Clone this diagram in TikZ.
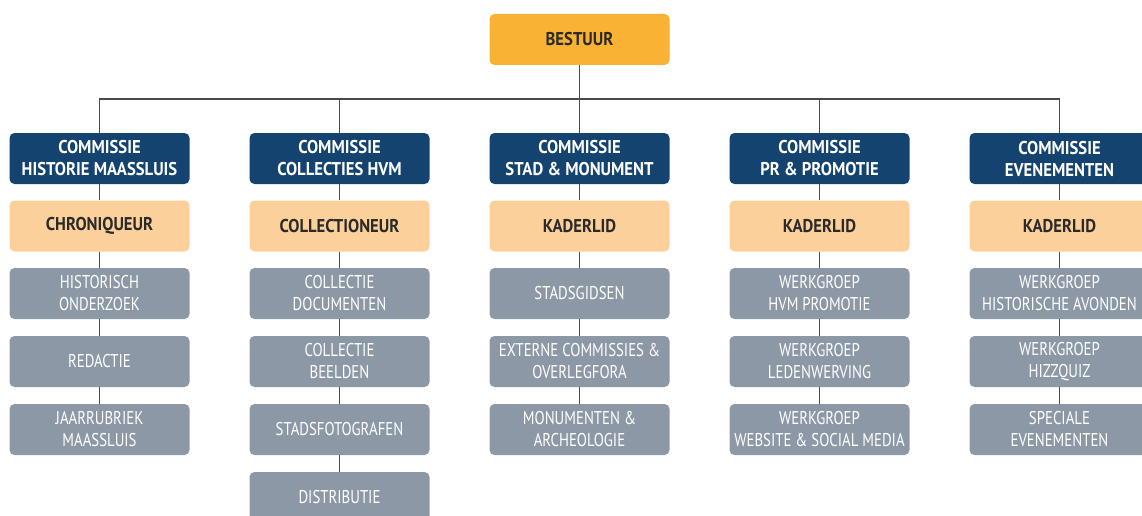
\documentclass[tikz,border=0pt]{standalone}
\usepackage{fontspec}
\setmainfont{PT Sans}[FakeStretch=0.9]
\newfontfamily\groepfont{PT Sans}[FakeStretch=0.8]
\usetikzlibrary{positioning}

\definecolor{bestuurkleur}{HTML}{F9B233}
\definecolor{commissiekleur}{HTML}{13436E}
\definecolor{kaderkleur}{HTML}{FCD09B}
\definecolor{groepkleur}{HTML}{8D98A7}
\definecolor{lijnkleur}{HTML}{4A4A4A}
\definecolor{tekstkleur}{HTML}{2A2A2A}

\tikzset{
  blok/.style={rectangle, rounded corners=5pt, minimum width=180pt, minimum height=51pt,
               align=center, inner sep=0pt},
  bestuur/.style={blok, fill=bestuurkleur, text=tekstkleur, font=\fontsize{18.5}{22}\selectfont\bfseries},
  commissie/.style={blok, fill=commissiekleur, text=white, font=\fontsize{18.5}{22}\selectfont\bfseries},
  kader/.style={blok, fill=kaderkleur, text=tekstkleur, font=\fontsize{18.5}{22}\selectfont\bfseries},
  groep/.style={blok, fill=groepkleur, text=white, font=\groepfont\fontsize{18.5}{22}\selectfont},
  lijn/.style={draw=lijnkleur, line width=1.8pt}
}

\begin{document}
\begin{tikzpicture}[x=1pt,y=-1pt]
\clip (0,0) rectangle (1142,516);

\node[bestuur] (best) at (579.5,39.5) {BESTUUR};
\coordinate (bus) at (579.5,99);

% commissies
\node[commissie] (c1) at (99.5, 158.5) {COMMISSIE\\HISTORIE MAASSLUIS};
\node[commissie] (c2) at (339.5,158.5) {COMMISSIE\\COLLECTIES HVM};
\node[commissie] (c3) at (579.5,158.5) {COMMISSIE\\STAD \& MONUMENT};
\node[commissie] (c4) at (819.5,158.5) {COMMISSIE\\PR \& PROMOTIE};
\node[commissie] (c5) at (1059.5,158.5) {COMMISSIE\\EVENEMENTEN};

% kader
\node[kader] (k1) at (99.5, 226) {CHRONIQUEUR};
\node[kader] (k2) at (339.5,226) {COLLECTIONEUR};
\node[kader] (k3) at (579.5,226) {KADERLID};
\node[kader] (k4) at (819.5,226) {KADERLID};
\node[kader] (k5) at (1059.5,226) {KADERLID};

% werkgroepen
\node[groep] (g11) at (99.5, 293.5) {HISTORISCH\\ONDERZOEK};
\node[groep] (g12) at (99.5, 361.5) {REDACTIE};
\node[groep] (g13) at (99.5, 429.5) {JAARRUBRIEK\\MAASSLUIS};

\node[groep] (g21) at (339.5,293.5) {COLLECTIE\\DOCUMENTEN};
\node[groep] (g22) at (339.5,361.5) {COLLECTIE\\BEELDEN};
\node[groep] (g23) at (339.5,429.5) {STADSFOTOGRAFEN};
\node[groep] (g24) at (339.5,497.5) {DISTRIBUTIE};

\node[groep] (g31) at (579.5,293.5) {STADSGIDSEN};
\node[groep] (g32) at (579.5,361.5) {EXTERNE COMMISSIES \&\\OVERLEGFORA};
\node[groep] (g33) at (579.5,429.5) {MONUMENTEN \&\\ARCHEOLOGIE};

\node[groep] (g41) at (819.5,293.5) {WERKGROEP\\HVM PROMOTIE};
\node[groep] (g42) at (819.5,361.5) {WERKGROEP\\LEDENWERVING};
\node[groep] (g43) at (819.5,429.5) {WERKGROEP\\WEBSITE \& SOCIAL MEDIA};

\node[groep] (g51) at (1059.5,293.5) {WERKGROEP\\HISTORISCHE AVONDEN};
\node[groep] (g52) at (1059.5,361.5) {WERKGROEP\\HIZZQUIZ};
\node[groep] (g53) at (1059.5,429.5) {SPECIALE\\EVENEMENTEN};

% lijnen
\draw[lijn] (best.south) -- (bus);
\draw[lijn] (c1.north) |- (bus) -| (c5.north);
\draw[lijn] (c2.north) -- (c2.north |- bus);
\draw[lijn] (c3.north) -- (bus);
\draw[lijn] (c4.north) -- (c4.north |- bus);

\draw[lijn] (c1) -- (k1) (k1) -- (g11) (g11) -- (g12) (g12) -- (g13);
\draw[lijn] (c2) -- (k2) (k2) -- (g21) (g21) -- (g22) (g22) -- (g23) (g23) -- (g24);
\draw[lijn] (c3) -- (k3) (k3) -- (g31) (g31) -- (g32) (g32) -- (g33);
\draw[lijn] (c4) -- (k4) (k4) -- (g41) (g41) -- (g42) (g42) -- (g43);
\draw[lijn] (c5) -- (k5) (k5) -- (g51) (g51) -- (g52) (g52) -- (g53);

\end{tikzpicture}
\end{document}
